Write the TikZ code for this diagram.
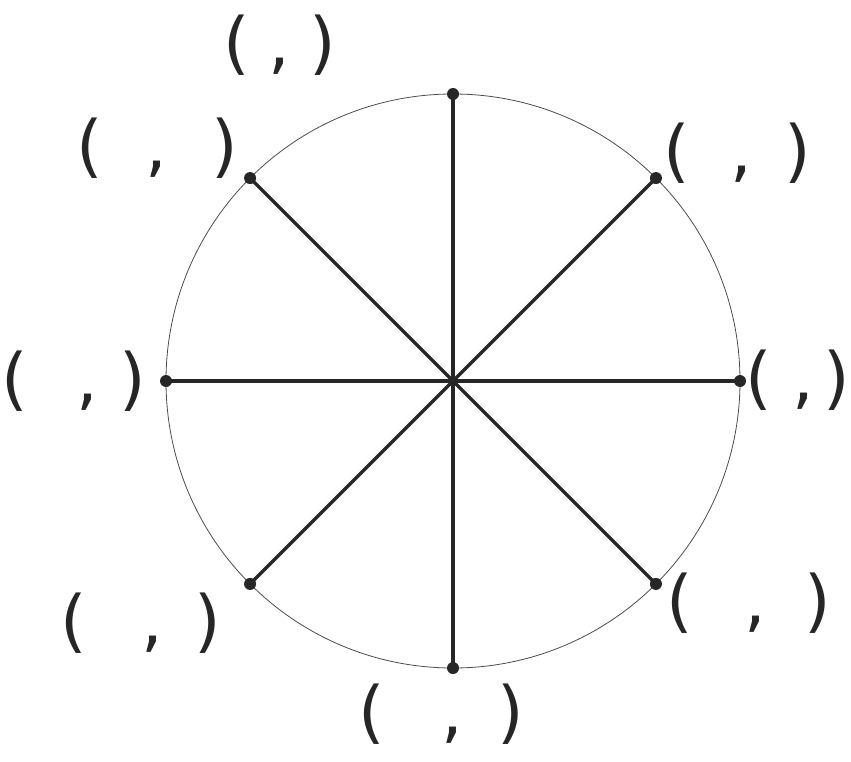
\documentclass[tikz,border=0pt]{standalone}
\usepackage{fontspec}
\newfontfamily\handfont{DejaVu Sans}
\newcommand{\coordlab}[2]{(\hspace{#1},\hspace{#2})}
\begin{document}
\begin{tikzpicture}[x=1pt,y=-1pt,
  rim/.style={draw=black!70, line width=0.8pt},
  spoke/.style={draw=black!85, line width=3.2pt},
  pt/.style={circle, fill=black!85, minimum size=12pt, inner sep=0},
  lbl/.style={font=\fontsize{68}{68}\selectfont\handfont, inner sep=0, text=black!85}]
\useasboundingbox (0,0) rectangle (851,762);
\coordinate (O) at (453,381);
\draw[rim] (O) circle[radius=287];
\foreach \a/\n in {90/t,45/ur,0/r,-45/lr,-90/b,-135/ll,180/l,135/ul}{
  \path (O) ++({cos(\a)*287},{-sin(\a)*287}) node[pt] (\n) {};
  \draw[spoke] (O) -- (\n.center);
}
\node[lbl] (lt) at (280,45) {\coordlab{18pt}{20pt}};
\node[lbl] (lul) at (157,148) {\coordlab{43pt}{44pt}};
\node[lbl] (lur) at (737,153) {\coordlab{41pt}{32pt}};
\node[lbl] (ll) at (74,381) {\coordlab{48pt}{22pt}};
\node[lbl] (lr) at (798,380) {\coordlab{20pt}{10pt}};
\node[lbl] (lll) at (141,623) {\coordlab{54pt}{32pt}};
\node[lbl] (llr) at (749,603) {\coordlab{51pt}{39pt}};
\node[lbl] (lb) at (441,714) {\coordlab{57pt}{34pt}};
\end{tikzpicture}
\end{document}
